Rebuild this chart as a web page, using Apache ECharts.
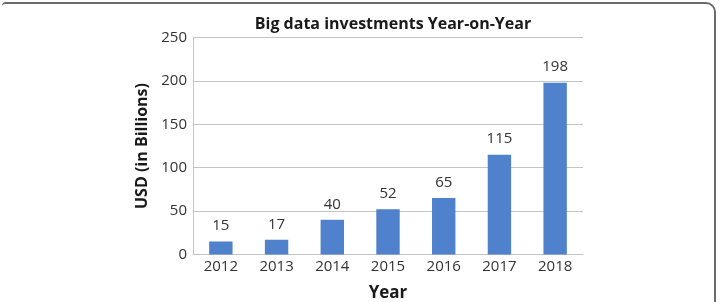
<!DOCTYPE html>
<html>
<head>
<meta charset="utf-8">
<script src="https://cdn.jsdelivr.net/npm/echarts@6/dist/echarts.min.js"></script>
<style>
  html, body { margin: 0; padding: 0; background: #fff; }
  #frame {
    position: absolute; left: 2px; top: 2px; width: 714px; height: 310px;
    border-top: 2px solid #6b6b6b; border-right: 2px solid #6b6b6b;
    border-top-right-radius: 10px; border-top-left-radius: 4px;
    box-sizing: border-box;
  }
  #chart { position: absolute; left: 0; top: 0; width: 721px; height: 302px; }
</style>
</head>
<body>
<div id="frame"></div>
<div id="chart"></div>
<script>
// chart data
var years = ['2012', '2013', '2014', '2015', '2016', '2017', '2018'];
var investments = [15, 17, 40, 52, 65, 115, 198];

var font = '"Open Sans", "Liberation Sans", sans-serif';

var chart = echarts.init(document.getElementById('chart'));
chart.setOption({
  animation: false,
  title: {
    text: 'Big data investments Year-on-Year',
    left: 388,
    textAlign: 'center',
    top: 11,
    textStyle: { fontFamily: font, fontSize: 16, fontWeight: 'bold', color: '#1a1a1a' }
  },
  grid: { left: 193, right: 138, top: 37.5, bottom: 47.5, containLabel: false, outerBoundsMode: 'none' },
  xAxis: {
    type: 'category',
    data: years,
    name: 'Year',
    nameLocation: 'middle',
    nameGap: 30,
    nameTextStyle: { fontFamily: font, fontSize: 17, fontWeight: 'bold', color: '#1a1a1a' },
    axisLine: { lineStyle: { color: '#c4c4c4', width: 1 } },
    axisTick: { show: false },
    axisLabel: { fontFamily: font, fontSize: 15, color: '#333', margin: 5 }
  },
  yAxis: {
    type: 'value',
    min: 0,
    max: 250,
    interval: 50,
    name: 'USD (in Billions)',
    nameLocation: 'middle',
    nameGap: 43,
    nameTextStyle: { fontFamily: font, fontSize: 16, fontWeight: 'bold', color: '#1a1a1a' },
    axisLine: { show: true, lineStyle: { color: '#c4c4c4', width: 1 } },
    axisTick: { show: false },
    axisLabel: { fontFamily: font, fontSize: 15, color: '#333', margin: 6 },
    splitLine: { lineStyle: { color: '#c4c4c4', width: 1 } }
  },
  series: [{
    type: 'bar',
    data: investments,
    barWidth: '42%',
    itemStyle: { color: '#4f81cc' },
    label: {
      show: true,
      position: 'top',
      distance: 8,
      fontFamily: font,
      fontSize: 15,
      color: '#333'
    }
  }]
});
</script>
</body>
</html>
